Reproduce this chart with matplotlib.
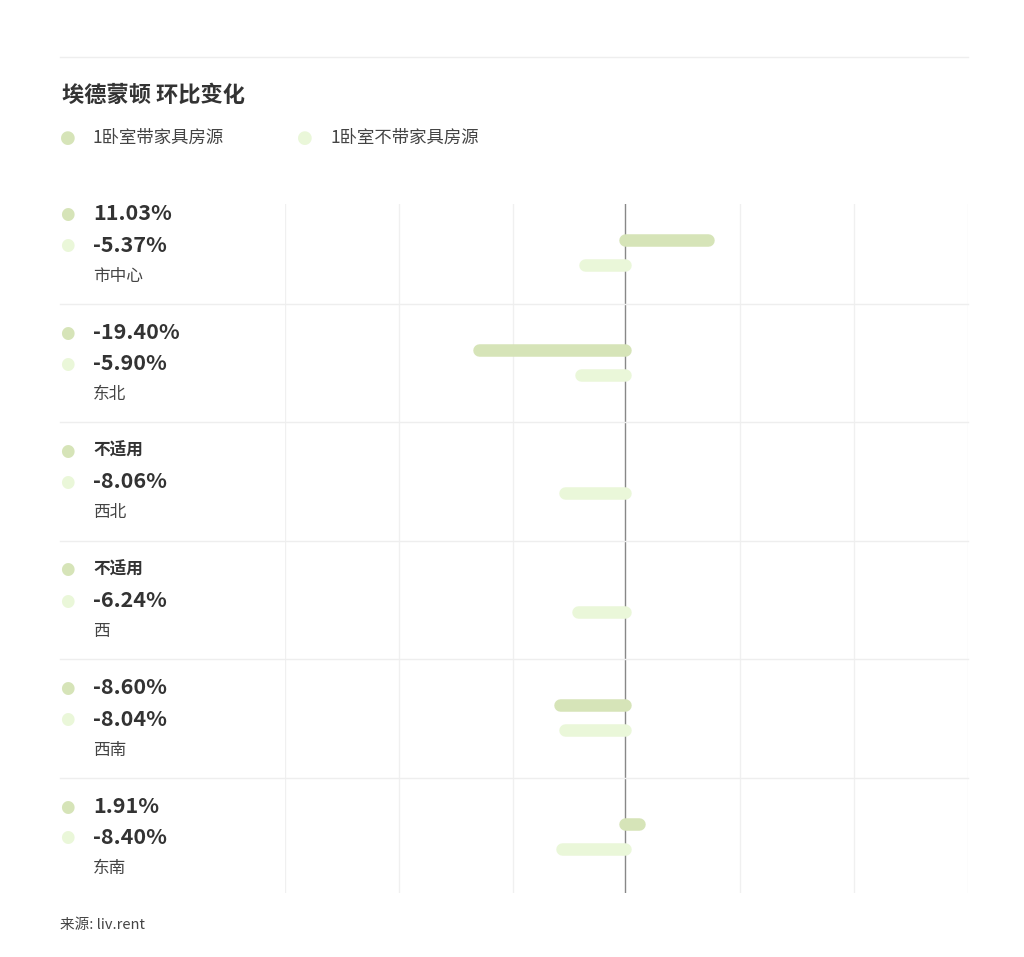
import matplotlib.pyplot as plt
from matplotlib.lines import Line2D

plt.rcParams['font.family'] = ['Noto Sans CJK SC', 'DejaVu Sans']

title = "埃德蒙顿 环比变化"
series_names = ["1卧室带家具房源", "1卧室不带家具房源"]
regions = ["市中心", "东北", "西北", "西", "西南", "东南"]
furnished = [11.03, -19.40, None, None, -8.60, 1.91]
unfurnished = [-5.37, -5.90, -8.06, -6.24, -8.04, -8.40]
colors = ["#d6e4b8", "#eaf7d9"]

W, H = 1024, 957
fig = plt.figure(figsize=(W / 100, H / 100), dpi=100)

def fx(px):
    return px / W

def fy(py):
    return 1 - py / H

# top separator line
fig.add_artist(Line2D([fx(60), fx(968)], [fy(57), fy(57)], color="#eeeeee", lw=1))
fig.text(fx(62), fy(95), title, fontsize=16, fontweight="bold", color="#333333", va="center")
for i, (name, x) in enumerate(zip(series_names, [60, 297])):
    fig.text(fx(x), fy(138), "●", color=colors[i], fontsize=13, va="center", family="DejaVu Sans")
    fig.text(fx(x + 33), fy(138), name, fontsize=12.5, color="#444444", va="center")

top, bottom = 204, 893
row_h = 118.5
first = 185
ax = fig.add_axes([fx(285), fy(bottom), fx(968) - fx(285), (bottom - top) / H])
ax.set_xlim(-45.3, 45.7)
# data y in pixel units relative to first group top
ax.set_ylim(bottom - first, top - first)
for s in ax.spines.values():
    s.set_visible(False)
ax.set_xticks([])
ax.set_yticks([])
step = 91 / 6
for k in range(7):
    xv = -45.3 + k * step
    if abs(xv) > 1:
        ax.axvline(xv, color="#f0f0f0", lw=1)
ax.axvline(0, color="#888888", lw=1)

for i, region in enumerate(regions):
    y0 = first + i * row_h
    if i > 0:
        fig.add_artist(Line2D([fx(60), fx(968)], [fy(y0), fy(y0)], color="#eeeeee", lw=1))
    shift = 9 if i == 0 else 0
    for j, vals in enumerate([furnished, unfurnished]):
        v = vals[i]
        yb = i * row_h + shift + (46 if j == 0 else 71)
        if v is not None:
            ax.plot([0, v], [yb, yb], color=colors[j], lw=9, solid_capstyle="round")
        ty = y0 + 29 + j * 31
        fig.text(fx(60), fy(ty), "●", color=colors[j], fontsize=12, va="center", family="DejaVu Sans")
        if v is None:
            fig.text(fx(93), fy(ty), "不适用", fontsize=12, fontweight="bold", color="#333333", va="center")
        else:
            fig.text(fx(93), fy(ty), f"{v:.2f}%", fontsize=15.5, fontweight="bold", color="#333333", va="center")
    fig.text(fx(93), fy(y0 + 91), region, fontsize=12, color="#444444", va="center")

fig.text(fx(60), fy(925), "来源: liv.rent", fontsize=10.5, color="#444444", va="center")
fig.savefig("out.png", dpi=100, facecolor="white")
